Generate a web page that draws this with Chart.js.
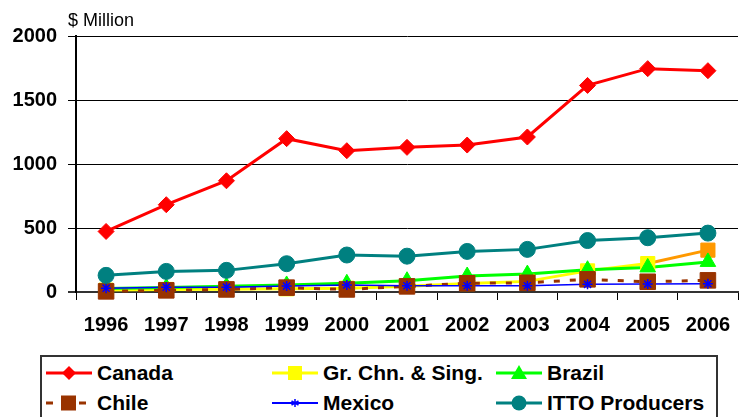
<!DOCTYPE html>
<html>
<head>
<meta charset="utf-8">
<script src="https://cdn.jsdelivr.net/npm/chart.js@4/dist/chart.umd.min.js"></script>
<style>
    html, body { margin: 0; padding: 0; background: #fff; overflow: hidden; }
    body { width: 743px; height: 417px; position: relative; font-family: Arial, 'Liberation Sans', sans-serif; }
    #grafico { position: absolute; left: 0; top: 0; }
    #unidade { position: absolute; left: 68px; top: 11px; font-size: 18px; line-height: 18px; color: #000; }
    #legenda { position: absolute; left: 40px; top: 355px; width: 674px; height: 80px; border: 2px solid #333; border-bottom: none; }
    .item { position: absolute; display: flex; align-items: center; height: 20px; font-weight: bold; font-size: 21px; line-height: 20px; color: #000; white-space: nowrap; }
    .item svg { margin-right: 5px; }
</style>
</head>
<body>
<canvas id="grafico" width="750" height="345"></canvas>
<div id="unidade">$ Million</div>
<div id="legenda"></div>
<script>
const anos = ['1996', '1997', '1998', '1999', '2000', '2001', '2002', '2003', '2004', '2005', '2006'];
const canada = [473, 682, 869, 1198, 1104, 1130, 1148, 1211, 1614, 1745, 1729];
const grChnSing = [15, 20, 22, 25, 30, 44, 66, 83, 165, 222, 327];
const brazil = [28, 36, 44, 55, 68, 88, 125, 140, 174, 192, 235];
const chile = [5, 13, 20, 34, 20, 44, 68, 72, 99, 80, 91];
const mexico = [30, 38, 38, 46, 55, 49, 49, 49, 60, 62, 64];
const itto = [130, 161, 169, 221, 289, 280, 317, 333, 402, 424, 460];
const yTicks = [0, 500, 1000, 1500, 2000];

const LARANJA = '#FF9900';
const AMARELO = '#FFFF00';

// name, data, colour, marker, radius, line width, dash
const series = [
    { nome: 'Canada', dados: canada, cor: '#FF0000', estilo: 'rectRot', raio: 8, largura: 3, dash: [] },
    { nome: 'Gr. Chn. & Sing.', dados: grChnSing, cor: AMARELO, estilo: 'rect', raio: 10, largura: 3, dash: [] },
    { nome: 'Brazil', dados: brazil, cor: '#00FF00', estilo: 'triangle', raio: 9, largura: 3, dash: [] },
    { nome: 'Chile', dados: chile, cor: '#993300', estilo: 'rect', raio: 11, largura: 3, dash: [6, 10] },
    { nome: 'Mexico', dados: mexico, cor: '#0000FF', estilo: 'star', raio: 5, largura: 1.5, dash: [] },
    { nome: 'ITTO Producers', dados: itto, cor: '#008080', estilo: 'circle', raio: 8, largura: 3, dash: [] }
];

const ultimo = anos.length - 1;

function corDoPonto(s, i) {
    if (s.nome === 'Gr. Chn. & Sing.' && i === ultimo) return LARANJA;
    return s.cor;
}

function montarDatasets() {
    const linhas = series.map((s, i) => ({
        label: s.nome,
        data: s.dados,
        borderColor: s.cor,
        borderWidth: s.largura,
        borderDash: s.dash,
        pointRadius: 0,
        tension: 0,
        clip: false,
        order: 200 - i,
        segment: {
            borderColor: ctx => (s.nome === 'Gr. Chn. & Sing.' && ctx.p1DataIndex === ultimo) ? LARANJA : s.cor
        }
    }));
    // markers drawn after every line, like Excel does
    const marcadores = series.map((s, i) => ({
        label: s.nome + ' marcador',
        data: s.dados,
        showLine: false,
        pointStyle: s.estilo,
        pointRadius: s.raio,
        pointHoverRadius: s.raio,
        pointBackgroundColor: s.dados.map((v, j) => corDoPonto(s, j)),
        pointBorderColor: s.dados.map((v, j) => corDoPonto(s, j)),
        pointBorderWidth: s.estilo === 'star' ? 1.5 : 1,
        clip: false,
        order: 100 - i
    }));
    return linhas.concat(marcadores);
}

function montarGrafico() {
    const fonteEixo = { family: 'Arial, "Liberation Sans", sans-serif', size: 20, weight: 'bold' };
    new Chart(document.getElementById('grafico').getContext('2d'), {
        type: 'line',
        data: { labels: anos, datasets: montarDatasets() },
        options: {
            responsive: false,
            animation: false,
            events: [],
            layout: { padding: { top: 36, left: 0, right: 0, bottom: 0 } },
            plugins: { legend: { display: false }, tooltip: { enabled: false }, title: { display: false } },
            scales: {
                x: {
                    offset: true,
                    grid: { display: true, drawOnChartArea: false, drawTicks: true, tickLength: 8, color: '#000', offset: true, lineWidth: 1 },
                    border: { display: true, color: '#333', width: 2 },
                    ticks: { font: fonteEixo, color: '#000', padding: 13, maxRotation: 0, autoSkip: false },
                    afterFit: scale => { scale.height = 53; }
                },
                y: {
                    min: yTicks[0],
                    max: yTicks[yTicks.length - 1],
                    afterBuildTicks: scale => { scale.ticks = yTicks.map(v => ({ value: v })); },
                    grid: {
                        color: ctx => (ctx.tick && ctx.tick.value === 0) ? '#333' : '#000',
                        lineWidth: ctx => (ctx.tick && ctx.tick.value === 0) ? 2 : 1,
                        tickLength: 8
                    },
                    border: { display: true, color: '#000', width: 2 },
                    ticks: { font: fonteEixo, color: '#000', padding: 11, callback: v => String(v) },
                    afterFit: scale => { scale.width = 76; }
                }
            }
        }
    });
}

function marcadorSvg(s) {
    const c = s.cor;
    let corpo = '';
    if (s.nome === 'Chile') {
        corpo = `<rect x="0" y="8.5" width="7" height="3" fill="${c}"/>` +
                `<rect x="15" y="2.5" width="15" height="15" fill="${c}"/>` +
                `<rect x="33" y="8.5" width="7" height="3" fill="${c}"/>`;
        return `<svg width="46" height="20">${corpo}</svg>`;
    }
    corpo = `<line x1="0" y1="10" x2="46" y2="10" stroke="${c}" stroke-width="${s.largura === 3 ? 3 : 2}"/>`;
    if (s.estilo === 'rectRot') corpo += `<polygon points="23,3 30,10 23,17 16,10" fill="${c}"/>`;
    if (s.estilo === 'rect') corpo += `<rect x="16" y="3" width="14" height="14" fill="${c}"/>`;
    if (s.estilo === 'triangle') corpo += `<polygon points="23,2 31,16 15,16" fill="${c}"/>`;
    if (s.estilo === 'circle') corpo += `<circle cx="23" cy="10" r="7.5" fill="${c}"/>`;
    if (s.estilo === 'star') {
        corpo += `<path d="M23,6 L23,14 M19.5,8 L26.5,12 M19.5,12 L26.5,8" stroke="${c}" stroke-width="1.5"/>`;
    }
    return `<svg width="46" height="20">${corpo}</svg>`;
}

function montarLegenda() {
    const legenda = document.getElementById('legenda');
    const colunas = [46, 272, 496];
    const linhas = [363, 393];
    // positions relative to the legend box (left 40, top 355, border 2)
    series.forEach((s, i) => {
        const div = document.createElement('div');
        div.className = 'item';
        div.style.left = (colunas[i % 3] - 42) + 'px';
        div.style.top = (linhas[Math.floor(i / 3)] - 357) + 'px';
        div.innerHTML = marcadorSvg(s) + `<span>${s.nome}</span>`;
        legenda.appendChild(div);
    });
}

document.addEventListener('DOMContentLoaded', () => {
    montarGrafico();
    montarLegenda();
});
</script>
</body>
</html>
